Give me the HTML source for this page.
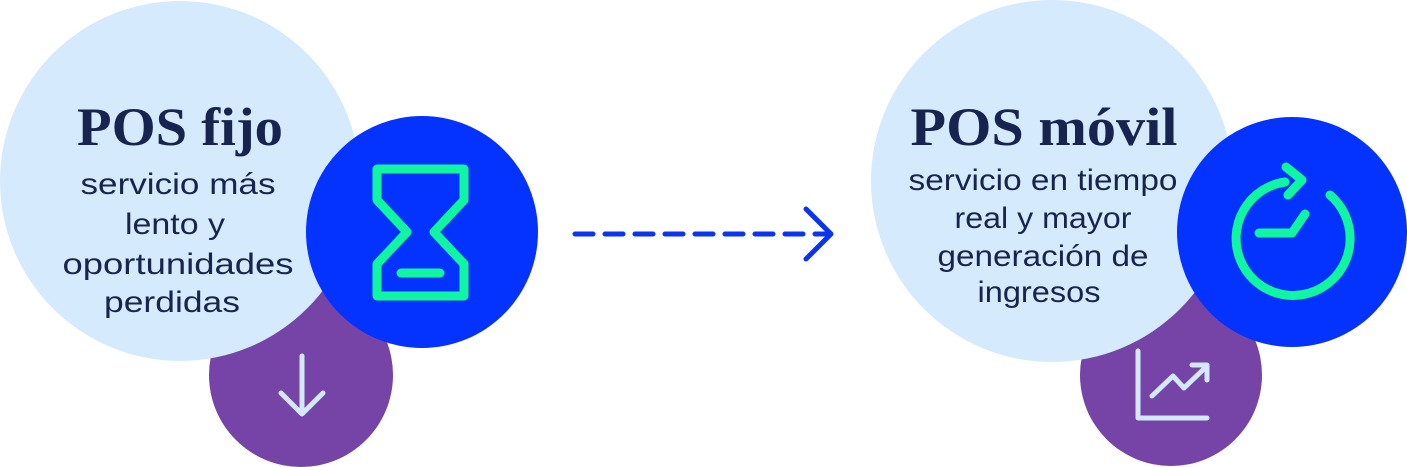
<!DOCTYPE html>
<html><head><meta charset="utf-8"><style>
html,body{margin:0;padding:0;background:#fff;}
svg{display:block}
.t{font-family:"Liberation Serif",serif;font-weight:bold;fill:#17244f;text-anchor:middle}
.b{font-family:"Liberation Sans",sans-serif;fill:#17244f;text-anchor:middle;font-size:30px}
</style></head><body>
<svg width="1407" height="467" viewBox="0 0 1407 467" xmlns="http://www.w3.org/2000/svg">
<circle cx="301" cy="375" r="92" fill="#7544a6"/>
<circle cx="180" cy="181" r="180" fill="#d5eafc"/>
<circle cx="422" cy="232" r="116" fill="#0432ff"/>
<text class="t" x="180" y="145" font-size="54" textLength="206" lengthAdjust="spacingAndGlyphs">POS fijo</text>
<text class="b" x="178" y="194" textLength="195" lengthAdjust="spacingAndGlyphs">servicio más</text>
<text class="b" x="175" y="234" textLength="100" lengthAdjust="spacingAndGlyphs">lento y</text>
<text class="b" x="178" y="274" textLength="231" lengthAdjust="spacingAndGlyphs">oportunidades</text>
<text class="b" x="172" y="312" textLength="136" lengthAdjust="spacingAndGlyphs">perdidas</text>
<g fill="none" stroke="#10f5a0" stroke-width="9" stroke-linejoin="round" stroke-linecap="round">
<path d="M377,169 H464 V200 L434,232 L464,264 V296 H377 V264 L407,232 L377,200 Z"/>
<path d="M401,273 H440"/>
</g>
<g fill="none" stroke="#d3e9fb" stroke-width="5" stroke-linecap="round" stroke-linejoin="round">
<path d="M302,356 V412 M281,393 L302,414 L323,393"/>
</g>
<g fill="none" stroke="#0a34f0" stroke-width="5" stroke-linecap="round" stroke-linejoin="round">
<path d="M575,234 H830" stroke-dasharray="18 12"/>
<path d="M806,209 L831,234 L806,259"/>
</g>
<circle cx="1171" cy="375" r="91" fill="#7544a6"/>
<circle cx="1052" cy="181" r="181" fill="#d5eafc"/>
<circle cx="1292" cy="232" r="115" fill="#0432ff"/>
<text class="t" x="1044" y="145" font-size="54" textLength="267" lengthAdjust="spacingAndGlyphs">POS móvil</text>
<text class="b" x="1043" y="190" textLength="269" lengthAdjust="spacingAndGlyphs">servicio en tiempo</text>
<text class="b" x="1043" y="228" textLength="177" lengthAdjust="spacingAndGlyphs">real y mayor</text>
<text class="b" x="1043" y="266" textLength="211" lengthAdjust="spacingAndGlyphs">generación de</text>
<text class="b" x="1039" y="302" textLength="123" lengthAdjust="spacingAndGlyphs">ingresos</text>
<g fill="none" stroke="#10f5a0" stroke-width="9" stroke-linecap="round" stroke-linejoin="round">
<path d="M1285,182 A57,57 0 1 0 1330,195"/>
<path d="M1286,167 L1302,180 L1288,195"/>
<path d="M1259,233 H1292 L1305,214"/>
</g>
<g fill="none" stroke="#d3e9fb" stroke-width="5" stroke-linecap="round" stroke-linejoin="round">
<path d="M1138,351 V418 H1207"/>
<path d="M1152,396 L1173,376 L1184,388 L1207,366"/>
<path d="M1192,365 H1207 V380"/>
</g>
</svg>
</body></html>
